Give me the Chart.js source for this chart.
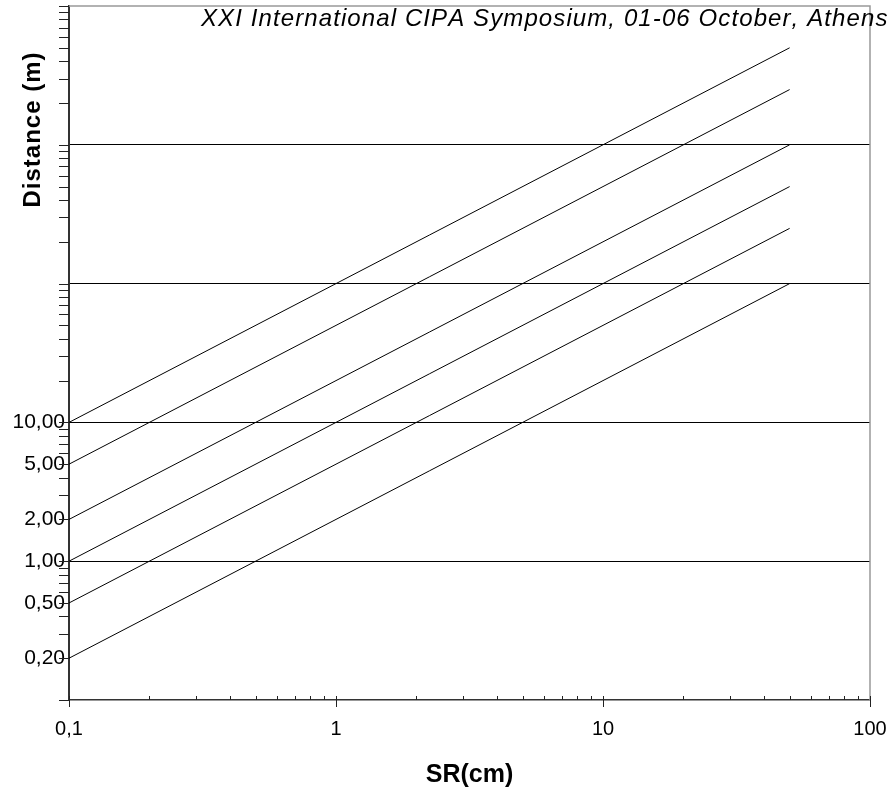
<!DOCTYPE html>
<html><head><meta charset="utf-8">
<script src="https://cdn.jsdelivr.net/npm/chart.js@4/dist/chart.umd.min.js"></script>
<style>html,body{margin:0;padding:0;background:#fff;}#wrap{position:relative;width:888px;height:794px;overflow:hidden;}</style>
</head><body><div id="wrap"><canvas id="c" width="888" height="794"></canvas></div>
<script>
// ---- data ----
const srPoints = [0.1, 50];                         // SR (cm) at line start / end
const lineStart = [10, 5, 2, 1, 0.5, 0.2];          // distance (m) at SR = 0.1
const lineEnd = [5000, 2500, 1000, 500, 250, 100];  // distance (m) at SR = 50
const yLabelValues = [0.2, 0.5, 1, 2, 5, 10];
const xLabelValues = [0.1, 1, 10, 100];
const yGridValues = [1, 10, 100, 1000];
const yDecades = [0.1, 1, 10, 100, 1000, 10000];
const xDecades = [0.1, 1, 10, 100];
const minorMultipliers = [2, 3, 4, 5, 6, 7, 8, 9];
const titleText = 'XXI International CIPA Symposium, 01-06 October, Athens';
const xTitle = 'SR(cm)';
const yTitle = 'Distance (m)';

const FONT = '"Liberation Sans", Arial, sans-serif';
const same = (a, b) => Math.abs(Math.log10(a) - Math.log10(b)) < 1e-6;
const inList = (v, list) => list.some(t => same(v, t));
function logTicks(decades) {
  const out = [];
  decades.forEach((d, i) => {
    out.push({value: d, major: true});
    if (i < decades.length - 1) minorMultipliers.forEach(m => out.push({value: Number((m * d).toPrecision(6)), major: false}));
  });
  return out;
}
function spacedText(ctx, text, x, y, spacing) {
  let cx = x;
  for (const ch of text) { ctx.fillText(ch, cx, y); cx += ctx.measureText(ch).width + spacing; }
  return cx - x - spacing;
}
function spacedWidth(ctx, text, spacing) {
  let w = 0;
  for (const ch of text) w += ctx.measureText(ch).width + spacing;
  return w - spacing;
}

const datasets = lineStart.map((s, i) => ({
  data: [{x: srPoints[0], y: s}, {x: srPoints[1], y: lineEnd[i]}],
  showLine: true, borderColor: '#000', borderWidth: 1, pointRadius: 0, fill: false
}));

const decorPlugin = {
  id: 'decor',
  afterDraw(chart) {
    const {ctx, chartArea: a, scales: {x, y}} = chart;
    ctx.save();
    // top/right frame
    ctx.strokeStyle = '#999'; ctx.lineWidth = 1.5;
    ctx.beginPath(); ctx.moveTo(a.left, a.top); ctx.lineTo(a.right, a.top); ctx.lineTo(a.right, a.bottom); ctx.stroke();
    // tick marks
    ctx.strokeStyle = '#222'; ctx.lineWidth = 1;
    y.ticks.forEach(t => {
      const py = Math.round(y.getPixelForValue(t.value)) + 0.5;
      ctx.beginPath(); ctx.moveTo(a.left - 10, py); ctx.lineTo(a.left, py); ctx.stroke();
    });
    x.ticks.forEach(t => {
      const px = Math.round(x.getPixelForValue(t.value)) + 0.5;
      const major = inList(t.value, xDecades);
      ctx.beginPath(); ctx.moveTo(px, a.bottom - 4); ctx.lineTo(px, a.bottom + (major ? 7 : 0)); ctx.stroke();
    });
    // header text
    ctx.fillStyle = '#000';
    ctx.font = 'italic 24px ' + FONT;
    ctx.textBaseline = 'alphabetic'; ctx.textAlign = 'left';
    spacedText(ctx, titleText, 201, 26, 1.1);
    // y title
    ctx.translate(33, 130); ctx.rotate(-Math.PI / 2);
    ctx.font = 'bold 24px ' + FONT; ctx.textBaseline = 'middle';
    const w = spacedWidth(ctx, yTitle, 1);
    spacedText(ctx, yTitle, -w / 2, 0, 1);
    ctx.restore();
  }
};

new Chart(document.getElementById('c'), {
  type: 'scatter',
  data: {datasets},
  plugins: [decorPlugin],
  options: {
    responsive: false, animation: false, devicePixelRatio: 1,
    layout: {padding: {left: 0, right: 18, top: 6, bottom: 0}},
    plugins: {legend: {display: false}, tooltip: {enabled: false}},
    scales: {
      x: {
        type: 'logarithmic', min: 0.1, max: 100,
        afterBuildTicks: s => { s.ticks = logTicks(xDecades); },
        afterFit: s => { s.height = 94; s.paddingLeft = 0; s.paddingRight = 0; },
        ticks: {
          autoSkip: false, maxRotation: 0, color: '#000', padding: 17,
          font: {family: FONT, size: 20},
          callback: v => inList(v, xLabelValues) ? String(v).replace('.', ',') : ''
        },
        grid: {display: true, drawOnChartArea: false, drawTicks: false, color: 'rgba(0,0,0,0)'},
        border: {display: true, color: '#333', width: 1.5},
        title: {display: true, text: xTitle, color: '#000', font: {family: FONT, size: 25, weight: 'bold'}, padding: {top: 0, bottom: 4}}
      },
      y: {
        type: 'logarithmic', min: 0.1, max: 10000,
        afterBuildTicks: s => { s.ticks = logTicks(yDecades); },
        afterFit: s => { s.width = 69; s.paddingTop = 0; s.paddingBottom = 0; },
        ticks: {
          autoSkip: false, color: '#000', padding: 4,
          font: {family: FONT, size: 21},
          callback: v => inList(v, yLabelValues) ? v.toFixed(2).replace('.', ',') : ''
        },
        grid: {
          display: true, drawTicks: false, lineWidth: 1,
          color: c => (c.tick && inList(c.tick.value, yGridValues)) ? '#000' : 'rgba(0,0,0,0)'
        },
        border: {display: true, color: '#333', width: 2}
      }
    }
  }
});
</script></body></html>
